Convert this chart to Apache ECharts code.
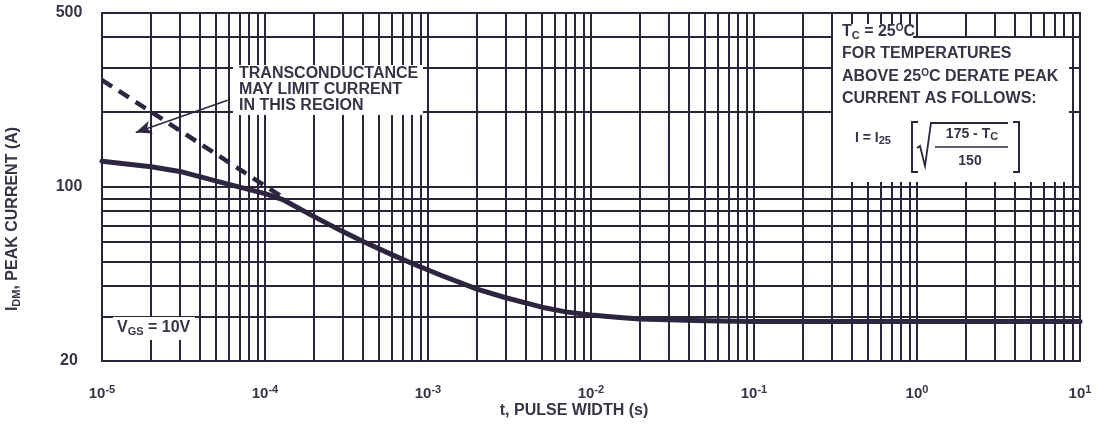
<!DOCTYPE html>
<html><head><meta charset="utf-8">
<script src="https://cdn.jsdelivr.net/npm/echarts@6/dist/echarts.min.js"></script>
<style>html,body{margin:0;padding:0;background:#fff}#c{width:1098px;height:424px}</style>
</head><body><div id="c"></div>
<script>
// ---- data ----
const pulseWidth  = [1e-5, 2e-5, 3e-5, 6e-5, 1e-4, 1.3e-4, 2e-4, 3e-4, 4e-4, 6e-4, 8e-4, 1.2e-3, 2e-3, 3e-3, 5e-3, 7e-3, 1e-2, 1.5e-2, 2e-2, 5e-2, 1e-1, 1, 10];
const peakCurrent = [127, 120.5, 115.5, 102.5, 94, 88.7, 76.0, 66.2, 60.4, 53.5, 49.3, 44.2, 38.9, 35.9, 32.9, 31.5, 30.6, 29.9, 29.5, 29.0, 28.8, 28.8, 28.8];
const limitWidth   = [1e-5, 1.35e-4];
const limitCurrent = [269, 89];
const arrowStart = [5.9e-5, 223];
const arrowEnd   = [1.61e-5, 165.6];
const xMantissas = [1, 2, 3, 4, 5, 6, 7, 8, 9];
const xDecades   = [-5, -4, -3, -2, -1, 0];
const yGridValues = [30, 40, 50, 60, 70, 80, 90, 100, 200, 300, 400];

const FONT = 'Liberation Sans';
const TXT = '#3a3346';
const GRIDC = '#2c2438';
const CURVE = '#2e2540';

const xGridValues = [];
xDecades.forEach(d => xMantissas.forEach(m => {
  const v = m * Math.pow(10, d);
  if (v > 1e-5 && v < 10) xGridValues.push(v);
}));

const solidData = pulseWidth.map((t, i) => [t, peakCurrent[i]]);
const dashData = limitWidth.map((t, i) => [t, limitCurrent[i]]);

const base = {fontFamily: FONT, fontWeight: 'bold', color: TXT};
const chart = echarts.init(document.getElementById('c'));
chart.setOption({
  animation: false,
  backgroundColor: '#fff',
  grid: {left: 102, right: 18, top: 13, bottom: 63, show: true, borderColor: GRIDC, borderWidth: 2, outerBoundsMode: 'none'},
  xAxis: {
    type: 'log', logBase: 10, min: 1e-5, max: 10,
    axisLine: {show: false}, axisTick: {show: false}, splitLine: {show: false}, minorSplitLine: {show: false},
    axisLabel: {
      margin: 23,
      formatter: v => '{b|10}{sup|' + Math.round(Math.log10(v)) + '}',
      rich: {
        b: Object.assign({fontSize: 15, lineHeight: 20}, base),
        sup: Object.assign({fontSize: 11, lineHeight: 11, verticalAlign: 'top'}, base)
      }
    },
    name: '{n|t, PULSE WIDTH (s)}', nameLocation: 'middle', nameGap: 41, nameMoveOverlap: false,
    nameTextStyle: {padding: [0, 34, 0, 0], rich: {n: Object.assign({fontSize: 16, lineHeight: 18}, base)}}
  },
  yAxis: {
    type: 'log', logBase: 10, min: 20, max: 500,
    axisLine: {show: false}, axisTick: {show: false}, splitLine: {show: false}, minorSplitLine: {show: false},
    axisLabel: Object.assign({margin: 33, align: 'center', fontSize: 16, formatter: v => String(Math.round(v))}, base),
    name: '{n|I}{s|DM}{n|, PEAK CURRENT (A)}', nameLocation: 'middle', nameGap: 80, nameMoveOverlap: false,
    nameTextStyle: {padding: [0, 64, 0, 0], rich: {
      n: Object.assign({fontSize: 16, lineHeight: 18}, base),
      s: Object.assign({fontSize: 11, lineHeight: 11, verticalAlign: 'bottom'}, base)
    }}
  },
  series: [
    {
      name: 'grid', type: 'line', data: [[1e-5, 20]], showSymbol: false, silent: true, z: 1,
      lineStyle: {opacity: 0},
      markLine: {
        silent: true, symbol: ['none', 'none'], label: {show: false}, animation: false, precision: 12,
        lineStyle: {color: GRIDC, width: 2, type: 'solid'},
        emphasis: {disabled: true},
        data: xGridValues.map(v => ({xAxis: v})).concat(yGridValues.map(v => ({yAxis: v})))
      }
    },
    {
      name: 'limit', type: 'line', data: dashData, showSymbol: false, z: 3, silent: true,
      lineStyle: {color: CURVE, width: 4.5, type: [12, 8]},
      markLine: {
        silent: true, symbol: ['none', 'arrow'], symbolSize: [10, 16], label: {show: false}, animation: false, precision: 12,
        lineStyle: {color: CURVE, width: 1.5, type: 'solid'},
        data: [[{coord: arrowStart}, {coord: arrowEnd}]]
      }
    },
    {
      name: 'IDM', type: 'line', data: solidData, showSymbol: false, z: 4, silent: true,
      smooth: false,
      lineStyle: {color: CURVE, width: 5, join: 'round', cap: 'round'}
    }
  ],
  graphic: [
    {type: 'rect', z: 50, shape: {x: 233, y: 65, width: 190, height: 50}, style: {fill: '#fff'}},
    {type: 'text', z: 51, style: {x: 239, y: 66, text: 'TRANSCONDUCTANCE\nMAY LIMIT CURRENT\nIN THIS REGION',
      font: 'bold 16px "Liberation Sans"', fill: TXT, lineHeight: 16, align: 'left', verticalAlign: 'top'}},
    {type: 'rect', z: 50, shape: {x: 113, y: 317, width: 82, height: 23}, style: {fill: '#fff'}},
    {type: 'text', z: 51, style: {x: 117, y: 328, text: '{m|V}{s|GS}{m| = 10V}', align: 'left', verticalAlign: 'middle',
      rich: {m: {font: 'bold 16px "Liberation Sans"', fill: TXT, lineHeight: 18}, s: {font: 'bold 11px "Liberation Sans"', fill: TXT, lineHeight: 11, verticalAlign: 'bottom'}}}},
    {type: 'rect', z: 50, shape: {x: 833, y: 24, width: 80, height: 14}, style: {fill: '#fff'}},
    {type: 'rect', z: 50, shape: {x: 833, y: 38, width: 236, height: 144}, style: {fill: '#fff'}},
    {type: 'text', z: 51, style: {x: 842, y: 32, text: '{m|T}{s|C}{m| = 25}{p|O}{m|C}', align: 'left', verticalAlign: 'middle',
      rich: {m: {font: 'bold 16px "Liberation Sans"', fill: TXT, lineHeight: 18}, s: {font: 'bold 11px "Liberation Sans"', fill: TXT, lineHeight: 11, verticalAlign: 'bottom'}, p: {font: 'bold 10px "Liberation Sans"', fill: TXT, lineHeight: 10, verticalAlign: 'top'}}}},
    {type: 'text', z: 51, style: {x: 842, y: 54, text: 'FOR TEMPERATURES', font: 'bold 16px "Liberation Sans"', fill: TXT, align: 'left', verticalAlign: 'middle'}},
    {type: 'text', z: 51, style: {x: 842, y: 77, text: '{m|ABOVE 25}{p|O}{m|C DERATE PEAK}', align: 'left', verticalAlign: 'middle',
      rich: {m: {font: 'bold 16px "Liberation Sans"', fill: TXT, lineHeight: 18}, p: {font: 'bold 10px "Liberation Sans"', fill: TXT, lineHeight: 10, verticalAlign: 'top'}}}},
    {type: 'text', z: 51, style: {x: 842, y: 99, text: 'CURRENT AS FOLLOWS:', font: 'bold 16px "Liberation Sans"', fill: TXT, align: 'left', verticalAlign: 'middle'}},
    {type: 'text', z: 51, style: {x: 855, y: 138, text: '{m|I = I}{s|25}', align: 'left', verticalAlign: 'middle',
      rich: {m: {font: 'bold 14px "Liberation Sans"', fill: TXT, lineHeight: 16}, s: {font: 'bold 11px "Liberation Sans"', fill: TXT, lineHeight: 11, verticalAlign: 'bottom'}}}},
    {type: 'polyline', z: 51, shape: {points: [[918, 122], [912, 122], [912, 172], [918, 172]]}, style: {stroke: CURVE, lineWidth: 2, fill: null}},
    {type: 'polyline', z: 51, shape: {points: [[1013, 122], [1019, 122], [1019, 172], [1013, 172]]}, style: {stroke: CURVE, lineWidth: 2, fill: null}},
    {type: 'polyline', z: 51, shape: {points: [[917, 148], [920, 146], [925, 166], [931, 123], [1008, 123]]}, style: {stroke: CURVE, lineWidth: 1.8, fill: null}},
    {type: 'line', z: 51, shape: {x1: 935, y1: 147, x2: 1008, y2: 147}, style: {stroke: CURVE, lineWidth: 1.5}},
    {type: 'text', z: 51, style: {x: 972, y: 134, text: '{m|175 - T}{s|C}', align: 'center', verticalAlign: 'middle',
      rich: {m: {font: 'bold 14px "Liberation Sans"', fill: TXT, lineHeight: 16}, s: {font: 'bold 11px "Liberation Sans"', fill: TXT, lineHeight: 11, verticalAlign: 'bottom'}}}},
    {type: 'text', z: 51, style: {x: 970, y: 161, text: '150', font: 'bold 14px "Liberation Sans"', fill: TXT, align: 'center', verticalAlign: 'middle'}}
  ]
});
</script>
</body></html>
